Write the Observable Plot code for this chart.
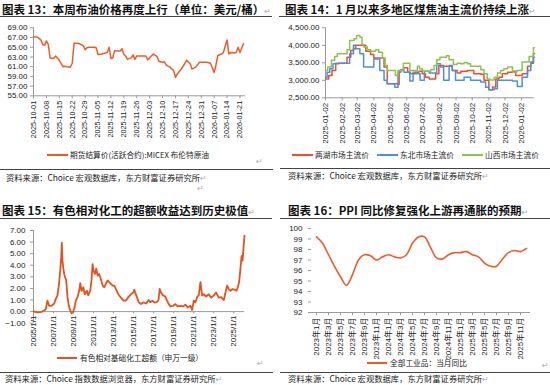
<!DOCTYPE html>
<html><head><meta charset="utf-8">
<script src="https://cdn.jsdelivr.net/npm/d3@7"></script>
<script src="https://cdn.jsdelivr.net/npm/@observablehq/plot@0.6"></script>
<style>
body{margin:0;background:#fff;}
#root{position:relative;width:550px;height:385px;overflow:hidden;font-family:"Liberation Sans",Arial,sans-serif;color:#222;}
.a{position:absolute;white-space:nowrap;}
.title{font-family:"Noto Sans CJK SC",sans-serif;font-weight:700;font-size:11.5px;line-height:14px;color:#111;}
.src{font-family:"Noto Sans CJK SC",sans-serif;font-size:8.3px;line-height:10px;color:#222;}
.leg{font-family:"Noto Sans CJK SC","Liberation Sans",sans-serif;font-size:7.7px;line-height:10px;color:#222;}
.pm{color:#aaa;font-weight:400;font-family:"DejaVu Sans",sans-serif;font-size:8px;}
.rule{position:absolute;height:0;border-top:1px solid #444;}
.sw{position:absolute;height:2px;}
.gu{text-decoration:underline;text-decoration-color:#4472c4;text-underline-offset:2px;}
svg{position:absolute;overflow:visible;}
</style></head><body><div id="root">
<div class="a title" style="left:2px;top:2px">图表 13：<span class="gu">本周布油价</span>格再度上行（单位：美元/桶）<span class="pm">↵</span></div>
<div class="rule" style="left:0;width:272px;top:16px"></div>
<div class="sw" style="left:47px;width:21px;top:154px;background:#EE5B2B"></div>
<div class="a leg" style="left:70px;top:150px">期货结算价(活跃合约):MICEX 布伦特原油</div>
<div class="a pm" style="left:256px;top:157px">↵</div>
<div class="rule" style="left:0;width:273px;top:169px"></div>
<div class="a src" style="left:6px;top:171.5px">资料来源：Choice 宏观数据库，东方财富证券研究所<span class="pm">↵</span></div>
<div class="a pm" style="left:197px;top:184px">↵</div>

<div class="a title" style="left:285px;top:2px">图表 14：1 月以来多地区煤焦油<span class="gu">主流价</span>持续上涨<span class="pm">↵</span></div>
<div class="rule" style="left:279px;width:271px;top:16px"></div>
<div class="sw" style="left:292px;width:21px;top:154px;background:#EE4E2A"></div>
<div class="a leg" style="left:315px;top:150px">两湖市场主流价</div>
<div class="sw" style="left:377px;width:21px;top:154px;background:#4C8FE3"></div>
<div class="a leg" style="left:400px;top:150px">东北市场主流价</div>
<div class="sw" style="left:462px;width:21px;top:154px;background:#8DC34D"></div>
<div class="a leg" style="left:485px;top:150px">山西市场主流价</div>
<div class="rule" style="left:280px;width:270px;top:168px"></div>
<div class="a src" style="left:288px;top:170px">资料来源：Choice 宏观数据库，东方财富证券研究所<span class="pm">↵</span></div>

<div class="a title" style="left:2px;top:203px">图表 15：有色相对化工的超额收益达到历史极值<span class="pm">↵</span></div>
<div class="rule" style="left:0;width:272px;top:218px"></div>
<div class="sw" style="left:57px;width:20px;top:357px;background:#E4521F"></div>
<div class="a leg" style="left:80px;top:353px">有色相对基础化工超额（申万一级）</div>
<div class="a pm" style="left:257px;top:359px">↵</div>
<div class="rule" style="left:0;width:273px;top:372px"></div>
<div class="a src" style="left:5px;top:373px">资料来源：Choice 指数数据浏览器，东方财富证券研究所<span class="pm">↵</span></div>

<div class="a title" style="left:288px;top:203px">图表 16：PPI 同比修复强化上游再通胀的预期<span class="pm">↵</span></div>
<div class="rule" style="left:280px;width:270px;top:218px"></div>
<div class="sw" style="left:367px;width:20px;top:362px;background:#EE5B2B"></div>
<div class="a leg" style="left:390px;top:358px">全部工业品：当月同比</div>
<div class="a pm" style="left:542px;top:361px">↵</div>
<div class="rule" style="left:280px;width:270px;top:372px"></div>
<div class="a src" style="left:288px;top:373px">资料来源：Choice 宏观数据库，东方财富证券研究所<span class="pm">↵</span></div>
</div>
<script>
// ---- Panel 13: Brent ----
const brentDates = ["2025-10-01","2025-10-03","2025-10-05","2025-10-06","2025-10-07","2025-10-08","2025-10-09","2025-10-10","2025-10-12","2025-10-13","2025-10-15","2025-10-16","2025-10-17","2025-10-18","2025-10-19","2025-10-21","2025-10-22","2025-10-23","2025-10-25","2025-10-26","2025-10-28","2025-10-29","2025-10-30","2025-10-31","2025-11-03","2025-11-04","2025-11-05","2025-11-07","2025-11-10","2025-11-11","2025-11-12","2025-11-13","2025-11-14","2025-11-16","2025-11-17","2025-11-18","2025-11-19","2025-11-20","2025-11-21","2025-11-23","2025-11-24","2025-11-25","2025-11-26","2025-11-28","2025-12-01","2025-12-02","2025-12-05","2025-12-07","2025-12-08","2025-12-10","2025-12-11","2025-12-12","2025-12-14","2025-12-16","2025-12-17","2025-12-18","2025-12-20","2025-12-22","2025-12-23","2025-12-25","2025-12-26","2025-12-28","2025-12-30","2025-12-31","2026-01-03","2026-01-05","2026-01-07","2026-01-08","2026-01-09","2026-01-11","2026-01-12","2026-01-14","2026-01-15","2026-01-16","2026-01-18","2026-01-19","2026-01-20","2026-01-21","2026-01-23"];
const brentValues = [67.1,67.1,66.5,65.6,65.4,66.3,65.6,62.8,62.7,63.2,62.3,61.6,61.0,61.1,61.0,60.9,61.7,65.8,65.8,65.7,65.3,64.5,64.9,65.0,65.0,64.9,63.5,63.6,63.9,65.0,62.7,62.8,64.3,64.2,64.2,64.7,63.5,63.2,62.5,62.8,63.4,62.5,63.2,63.2,63.2,62.4,63.6,63.1,62.1,61.9,62.0,61.3,60.9,60.2,58.8,59.5,60.4,61.6,62.3,61.6,60.5,60.9,61.9,61.9,61.9,61.7,59.8,61.4,63.3,63.6,63.9,66.5,63.6,63.9,63.8,63.9,65.0,63.9,65.8];
const brentTicks = ["2025-10-01","2025-10-08","2025-10-15","2025-10-22","2025-10-29","2025-11-05","2025-11-12","2025-11-19","2025-11-26","2025-12-03","2025-12-10","2025-12-17","2025-12-24","2025-12-31","2026-01-07","2026-01-14","2026-01-21"];
const brentYTicks = [55,57,59,61,63,65,67,69];

// ---- Panel 14: coal tar ----
const hunanDates = ["2025-01-02","2025-01-08","2025-01-14","2025-01-21","2025-01-27","2025-02-11","2025-02-18","2025-02-23","2025-02-27","2025-03-18","2025-03-27","2025-04-02","2025-04-21","2025-04-27","2025-05-16","2025-05-19","2025-05-27","2025-06-04","2025-06-09","2025-06-19","2025-06-25","2025-07-01","2025-07-07","2025-07-14","2025-07-26","2025-08-01","2025-08-10","2025-08-26","2025-09-04","2025-09-11","2025-09-23","2025-10-05","2025-10-18","2025-10-24","2025-11-02","2025-11-09","2025-11-15","2025-11-21","2025-11-27","2025-12-07","2025-12-16","2025-12-22","2026-01-03","2026-01-13","2026-01-19","2026-01-24","2026-01-26"];
const hunanValues = [3040,3140,3280,3470,3490,3660,3850,3900,4000,3830,3740,3640,3380,2900,2880,3280,3360,3230,3190,3230,3260,3190,3090,3040,3190,3420,3400,3280,3210,3260,3280,3190,3170,3000,2730,2810,3040,3090,3190,3230,3260,3140,3190,3400,3490,3760,3760];
const dongbeiDates = ["2025-01-02","2025-01-05","2025-01-10","2025-01-16","2025-01-21","2025-02-16","2025-02-23","2025-02-27","2025-03-07","2025-03-14","2025-04-02","2025-04-13","2025-04-21","2025-04-27","2025-05-11","2025-05-17","2025-05-22","2025-05-28","2025-06-08","2025-06-14","2025-06-21","2025-06-27","2025-07-05","2025-07-14","2025-07-28","2025-08-04","2025-08-10","2025-08-20","2025-08-26","2025-09-01","2025-09-17","2025-09-29","2025-10-18","2025-10-27","2025-11-02","2025-11-12","2025-11-18","2025-12-16","2025-12-25","2026-01-03","2026-01-13","2026-01-19","2026-01-24","2026-01-26"];
const dongbeiValues = [3090,3230,3330,3470,3490,3760,4000,3900,3760,3380,3610,3280,3000,2900,2800,3230,3300,3230,2980,3230,3190,3000,3260,3210,3470,3380,3000,3420,3280,3000,3090,3000,2950,2800,2730,2760,3000,2980,2820,3090,3280,3520,3660,3660];
const shanxiDates = ["2025-01-02","2025-01-06","2025-01-13","2025-01-19","2025-01-24","2025-02-11","2025-02-16","2025-02-24","2025-03-01","2025-03-07","2025-03-11","2025-03-14","2025-03-21","2025-03-27","2025-04-05","2025-04-11","2025-04-18","2025-04-23","2025-04-27","2025-05-12","2025-05-17","2025-05-27","2025-06-08","2025-06-22","2025-06-26","2025-07-01","2025-07-05","2025-07-17","2025-07-23","2025-07-28","2025-08-03","2025-08-15","2025-08-20","2025-08-28","2025-09-04","2025-09-11","2025-09-17","2025-09-23","2025-09-29","2025-10-18","2025-10-24","2025-10-30","2025-11-04","2025-11-12","2025-11-18","2025-11-24","2025-11-30","2025-12-07","2025-12-16","2025-12-24","2026-01-03","2026-01-16","2026-01-24","2026-01-26"];
const shanxiValues = [3280,3380,3570,3680,3760,3870,4140,4190,4280,4230,4020,3950,3870,3830,3870,3800,3640,3420,3280,3140,3280,3490,3280,3400,3330,3280,3260,3300,3420,3590,3660,3700,3590,3450,3490,3470,3510,3470,3400,3300,3190,3040,3010,3090,3210,3280,3330,3380,3230,3280,3520,3680,3930,3930];
const cokeTicks = ["2025-01-02","2025-02-02","2025-03-02","2025-04-02","2025-05-02","2025-06-02","2025-07-02","2025-08-02","2025-09-02","2025-10-02","2025-11-02","2025-12-02","2026-01-02"];
const cokeYTicks = [2500,3000,3500,4000,4500];

// ---- Panel 15: nonferrous vs chemicals ----
const exDates = ["2005-01-01","2005-05-25","2005-09-20","2006-01-25","2006-03-25","2006-05-25","2006-07-25","2006-10-20","2007-01-25","2007-03-25","2007-05-25","2007-07-12","2007-09-01","2007-10-08","2007-10-30","2007-11-25","2007-12-20","2008-01-25","2008-03-01","2008-04-08","2008-05-25","2008-07-12","2008-09-01","2008-10-20","2008-12-08","2009-01-25","2009-03-25","2009-05-25","2009-07-25","2009-09-01","2009-10-20","2009-12-20","2010-02-15","2010-05-01","2010-06-20","2010-09-01","2010-10-20","2010-11-25","2011-01-01","2011-02-15","2011-04-08","2011-05-25","2011-07-25","2011-09-25","2011-11-25","2012-01-25","2012-03-25","2012-05-25","2012-07-25","2012-09-25","2012-11-25","2013-01-25","2013-03-25","2013-06-20","2013-09-25","2014-01-01","2014-03-25","2014-06-20","2014-09-25","2014-12-20","2015-01-25","2015-03-15","2015-05-01","2015-07-01","2015-09-25","2016-01-01","2016-04-08","2016-07-01","2016-09-01","2016-11-15","2017-01-25","2017-04-08","2017-06-20","2017-08-08","2017-09-25","2017-12-08","2018-03-01","2018-05-01","2018-07-01","2018-09-01","2018-12-08","2019-03-01","2019-05-25","2019-09-01","2019-12-08","2020-03-01","2020-05-25","2020-09-01","2020-11-01","2021-01-01","2021-03-01","2021-05-01","2021-07-01","2021-09-01","2021-11-01","2022-01-01","2022-03-25","2022-07-01","2022-09-25","2023-01-01","2023-03-25","2023-07-01","2023-09-25","2024-01-01","2024-03-01","2024-05-01","2024-07-01","2024-09-01","2024-11-01","2025-01-25","2025-04-08","2025-05-25","2025-07-12","2025-09-01","2025-10-08","2025-11-15","2025-12-20","2026-01-23"];
const exValues = [0.03,-0.06,-0.05,0.10,0.20,0.95,0.50,0.50,0.70,1.10,1.40,2.25,3.50,4.70,5.95,4.40,3.80,3.25,2.95,2.70,1.25,0.50,0.10,-0.15,-0.05,0.25,0.95,1.25,1.80,2.45,1.80,2.10,1.50,1.80,1.40,1.80,2.80,4.10,3.55,3.25,3.70,3.10,3.25,2.80,2.25,2.10,2.40,2.70,2.55,2.40,2.25,2.25,1.95,1.50,1.20,0.95,0.95,1.25,1.50,1.65,1.90,1.50,1.25,0.80,0.65,0.80,0.70,1.00,0.80,0.95,0.80,0.80,0.95,1.95,1.65,1.40,1.30,0.95,0.65,0.45,0.50,0.65,0.45,0.50,0.45,0.60,0.35,0.50,0.15,0.95,0.80,1.25,1.40,2.55,1.40,1.50,1.30,1.50,1.20,1.40,1.65,1.20,1.25,1.00,1.65,2.25,1.95,1.80,1.95,1.90,1.80,2.10,2.55,3.80,4.80,4.40,5.55,6.55];
const exTicks = ["2005-01-01","2007-01-01","2009-01-01","2011-01-01","2013-01-01","2015-01-01","2017-01-01","2019-01-01","2021-01-01","2023-01-01","2025-01-01"];
const exYTicks = [-1,0,1,2,3,4,5,6,7];

// ---- Panel 16: PPI ----
const ppiMonths = ["2023-01","2023-02","2023-03","2023-04","2023-05","2023-06","2023-07","2023-08","2023-09","2023-10","2023-11","2023-12","2024-01","2024-02","2024-03","2024-04","2024-05","2024-06","2024-07","2024-08","2024-09","2024-10","2024-11","2024-12","2025-01","2025-02","2025-03","2025-04","2025-05","2025-06","2025-07","2025-08","2025-09","2025-10","2025-11","2025-12"];
const ppiValues = [99.2,98.6,97.5,96.4,95.4,94.6,95.6,97.0,97.5,97.4,97.0,97.3,97.5,97.3,97.2,97.5,98.6,99.2,99.2,98.2,97.2,97.1,97.5,97.7,97.7,97.8,97.5,97.3,96.7,96.4,96.4,97.1,97.7,97.9,97.8,98.1];
const ppiTicks = ["2023-01","2023-03","2023-05","2023-07","2023-09","2023-11","2024-01","2024-03","2024-05","2024-07","2024-09","2024-11","2025-01","2025-03","2025-05","2025-07","2025-09","2025-11"];
const ppiYTicks = [92,93,94,95,96,97,98,99,100];

const root = document.getElementById("root");
const style = {fontFamily:"Liberation Sans, Arial, Noto Sans CJK SC, sans-serif", fontSize:"8px", color:"#222", background:"none", overflow:"visible"};
const axisColor = "#9a9a9a";
const P = (d) => new Date(d);
function place(svg, left, top){ svg.style.left = left + "px"; svg.style.top = top + "px"; root.appendChild(svg); }

// Panel 13
const brent = brentDates.map((d,i)=>({date:P(d), value:brentValues[i]}));
place(Plot.plot({
  width:275, height:125, marginTop:7.3, marginBottom:49.7, marginLeft:33, marginRight:30, style,
  x:{type:"utc", domain:[P("2025-10-01"), P("2026-01-24")]},
  y:{domain:[55,69]},
  marks:[
    Plot.ruleY([55],{stroke:axisColor}),
    Plot.ruleX([P("2025-10-01")],{stroke:axisColor}),
    Plot.axisY({ticks:brentYTicks, tickFormat:d3.format(".2f"), tickSize:3, tickPadding:3, fontSize:8, stroke:axisColor, fill:"#222", label:null}),
    Plot.axisX({ticks:brentTicks.map(P), tickFormat:d3.utcFormat("%Y-%m-%d"), tickRotate:-90, tickSize:3, tickPadding:2, fontSize:7.3, stroke:axisColor, fill:"#222", label:null}),
    Plot.line(brent,{x:"date", y:"value", stroke:"#EE5B2B", strokeWidth:1.5})
  ]
}), 0, 20);

// Panel 14
const mk = (dates, vals, name) => dates.map((d,i)=>({date:P(d), value:vals[i], s:name}));
const hunan = mk(hunanDates, hunanValues, "两湖市场主流价");
const dongbei = mk(dongbeiDates, dongbeiValues, "东北市场主流价");
const shanxi = mk(shanxiDates, shanxiValues, "山西市场主流价");
place(Plot.plot({
  width:275, height:125, marginTop:7.3, marginBottom:47.7, marginLeft:50, marginRight:16, style,
  x:{type:"utc", domain:[P("2025-01-02"), P("2026-01-26")]},
  y:{domain:[2500,4500]},
  marks:[
    Plot.ruleY([2500],{stroke:axisColor}),
    Plot.ruleX([P("2025-01-02")],{stroke:axisColor}),
    Plot.axisY({ticks:cokeYTicks, tickFormat:d3.format(",.2f"), tickSize:3, tickPadding:3, fontSize:8, stroke:axisColor, fill:"#222", label:null}),
    Plot.axisX({ticks:cokeTicks.map(P), tickFormat:d3.utcFormat("%Y-%m-%d"), tickRotate:-90, tickSize:3, tickPadding:2, fontSize:8, stroke:axisColor, fill:"#222", label:null}),
    Plot.line(hunan,{x:"date", y:"value", stroke:"#EE4E2A", strokeWidth:1.5, curve:"step-after"}),
    Plot.line(dongbei,{x:"date", y:"value", stroke:"#4C8FE3", strokeWidth:1.5, curve:"step-after"}),
    Plot.line(shanxi,{x:"date", y:"value", stroke:"#8DC34D", strokeWidth:1.5, curve:"step-after"})
  ]
}), 275, 20);

// Panel 15
const ex = exDates.map((d,i)=>({date:P(d), value:exValues[i]}));
const exT = exTicks.map(P);
place(Plot.plot({
  width:275, height:140, marginTop:15, marginBottom:32.3, marginLeft:33, marginRight:30.8, style,
  x:{type:"utc", domain:[P("2005-01-01"), P("2026-01-31")], axis:null},
  y:{type:"linear", domain:[-1,7]},
  marks:[
    Plot.ruleX([P("2005-01-01")],{stroke:axisColor}),
    Plot.axisY({ticks:exYTicks, tickFormat:d3.format(".2f"), tickSize:3, tickPadding:5, fontSize:8, stroke:axisColor, fill:"#222", label:null}),
    Plot.ruleY([0],{stroke:axisColor}),
    Plot.ruleX(exT,{x:d=>d, y1:0, y2:-0.2, stroke:axisColor}),
    Plot.text(exT,{x:d=>d, y:()=>0, text:d3.utcFormat("%Y/%-m/%-d"), rotate:-90, textAnchor:"end", dy:4, fontSize:8, fill:"#222"}),
    Plot.line(ex,{x:"date", y:"value", stroke:"#E4521F", strokeWidth:1.8, strokeLinejoin:"round"})
  ]
}), 0, 215);

// Panel 16
const ppi = ppiMonths.map((m,i)=>({m, value:ppiValues[i]}));
place(Plot.plot({
  width:275, height:145, marginTop:13, marginBottom:48, marginLeft:36, marginRight:20, style,
  x:{type:"point", domain:ppiMonths, padding:0.5},
  y:{domain:[92,100]},
  marks:[
    Plot.ruleY([92],{stroke:axisColor}),
    Plot.axisY({ticks:ppiYTicks, tickSize:3, tickPadding:6, fontSize:8, stroke:axisColor, fill:"#222", label:null, line:true}),
    Plot.axisX({ticks:ppiTicks, tickFormat:d=>`${+d.slice(0,4)}年${+d.slice(5)}月`, tickRotate:-90, tickSize:3, tickPadding:2, fontSize:8, stroke:axisColor, fill:"#222", label:null}),
    Plot.line(ppi,{x:"m", y:"value", stroke:"#EE5B2B", strokeWidth:1.6, curve:"catmull-rom"})
  ]
}), 275, 215);
</script>
</body></html>
